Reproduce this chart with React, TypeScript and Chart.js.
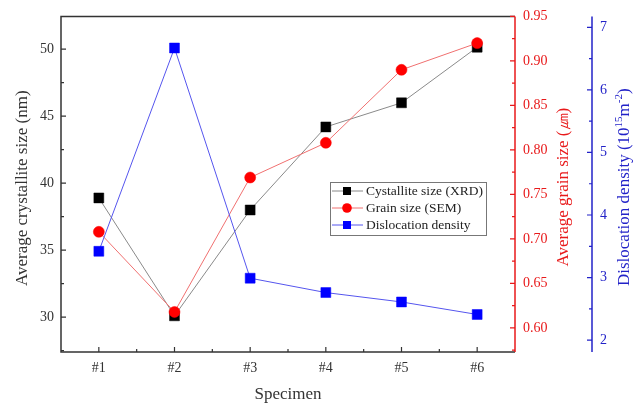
import { useEffect, useRef } from 'react';
import { Chart, registerables } from 'chart.js';
Chart.register(...registerables);

const categories = ['#1', '#2', '#3', '#4', '#5', '#6'];
const crystalliteSize = [38.9, 30.1, 38.0, 44.2, 46.0, 50.15];
const grainSize = [0.708, 0.618, 0.769, 0.808, 0.89, 0.92];
const dislocationDensity = [3.42, 6.67, 2.99, 2.76, 2.61, 2.41];
const seriesLabels = ['Cystallite size (XRD)', 'Grain size (SEM)', 'Dislocation density'];

const FONT = "'Liberation Serif', 'Times New Roman', serif";
const RED = '#ff0000';
const BLUE = '#0000ff';
const AXIS_DARK = '#333333';
const RED_AXIS = '#e8191a';
const BLUE_AXIS = '#2222c8';

function drawYTicks(ctx: CanvasRenderingContext2D, scale: any, xLine: number, dir: number, color: string) {
  const vals: number[] = scale.ticks.map((t: any) => t.value);
  ctx.strokeStyle = color;
  ctx.lineWidth = 1.2;
  ctx.beginPath();
  vals.forEach((v) => {
    const p = scale.getPixelForValue(v);
    ctx.moveTo(xLine, p);
    ctx.lineTo(xLine + dir * 5, p);
  });
  const step = vals[1] - vals[0];
  const minors: number[] = [];
  for (let i = 0; i < vals.length - 1; i++) minors.push((vals[i] + vals[i + 1]) / 2);
  minors.push(vals[0] - step / 2, vals[vals.length - 1] + step / 2);
  minors
    .filter((v) => v > scale.min && v < scale.max)
    .forEach((v) => {
      const p = scale.getPixelForValue(v);
      ctx.moveTo(xLine, p);
      ctx.lineTo(xLine + dir * 3, p);
    });
  ctx.stroke();
}

function drawRotated(ctx: CanvasRenderingContext2D, cx: number, cy: number, parts: { t: string; sup?: boolean }[], size: number, color: string) {
  ctx.save();
  ctx.translate(cx, cy);
  ctx.rotate(-Math.PI / 2);
  ctx.fillStyle = color;
  ctx.textBaseline = 'middle';
  ctx.textAlign = 'left';
  const supSize = Math.round(size * 0.62);
  let total = 0;
  parts.forEach((p) => {
    ctx.font = `${p.sup ? supSize : size}px ${FONT}`;
    total += ctx.measureText(p.t).width;
  });
  let x = -total / 2;
  parts.forEach((p) => {
    ctx.font = `${p.sup ? supSize : size}px ${FONT}`;
    ctx.fillText(p.t, x, p.sup ? -size * 0.32 : 0);
    x += ctx.measureText(p.t).width;
  });
  ctx.restore();
}

const decorPlugin = {
  id: 'decor',
  afterDraw(chart: any) {
    const ctx: CanvasRenderingContext2D = chart.ctx;
    const { left, right, top, bottom } = chart.chartArea;
    const xs = chart.scales.x;
    const ys = chart.scales.y;
    const yr = chart.scales.yGrain;
    const yb = chart.scales.yDisl;
    ctx.save();
    // frame
    ctx.lineWidth = 1.5;
    ctx.strokeStyle = AXIS_DARK;
    ctx.beginPath();
    ctx.moveTo(right, top);
    ctx.lineTo(left, top);
    ctx.lineTo(left, bottom);
    ctx.lineTo(right, bottom);
    ctx.stroke();
    ctx.strokeStyle = RED_AXIS;
    ctx.beginPath();
    ctx.moveTo(right, top);
    ctx.lineTo(right, bottom);
    ctx.stroke();
    const bx = yb.left;
    ctx.strokeStyle = BLUE_AXIS;
    ctx.beginPath();
    ctx.moveTo(bx, top);
    ctx.lineTo(bx, bottom);
    ctx.stroke();

    // ticks
    drawYTicks(ctx, ys, left, 1, AXIS_DARK);
    drawYTicks(ctx, yr, right, -1, RED_AXIS);
    drawYTicks(ctx, yb, bx, -1, BLUE_AXIS);
    ctx.strokeStyle = AXIS_DARK;
    ctx.lineWidth = 1.2;
    ctx.beginPath();
    for (let i = 0; i < categories.length; i++) {
      const p = xs.getPixelForValue(i);
      ctx.moveTo(p, bottom);
      ctx.lineTo(p, bottom - 5);
      if (i < categories.length - 1) {
        const m = xs.getPixelForValue(i + 0.5);
        ctx.moveTo(m, bottom);
        ctx.lineTo(m, bottom - 3);
      }
    }
    ctx.stroke();

    // titles
    drawRotated(ctx, 23, (top + bottom) / 2 + 4, [{ t: 'Average crystallite size (nm)' }], 17, '#333');
    drawRotated(ctx, 564, (top + bottom) / 2 + 3, [{ t: 'Average grain size (㎛)' }], 17, RED_AXIS);
    drawRotated(
      ctx,
      625,
      (top + bottom) / 2 + 3,
      [{ t: 'Dislocation density (10' }, { t: '15', sup: true }, { t: 'm' }, { t: '-2', sup: true }, { t: ')' }],
      17,
      BLUE_AXIS
    );
    ctx.fillStyle = '#333';
    ctx.font = `17px ${FONT}`;
    ctx.textAlign = 'center';
    ctx.textBaseline = 'middle';
    ctx.fillText('Specimen', (left + right) / 2, 395);

    // legend
    const lx = 330, ly = 182, lw = 156, lh = 53;
    ctx.fillStyle = '#ffffff';
    ctx.fillRect(lx, ly, lw, lh);
    ctx.strokeStyle = '#777';
    ctx.lineWidth = 1;
    ctx.strokeRect(lx + 0.5, ly + 0.5, lw, lh);
    const rows = [
      { y: 191, line: '#888888', mark: '#000000', shape: 'rect' },
      { y: 208, line: '#f07070', mark: RED, shape: 'circle' },
      { y: 225, line: '#5555ee', mark: BLUE, shape: 'rect' },
    ];
    rows.forEach((r, i) => {
      ctx.strokeStyle = r.line;
      ctx.lineWidth = 1;
      ctx.beginPath();
      ctx.moveTo(lx + 2, r.y);
      ctx.lineTo(lx + 33, r.y);
      ctx.stroke();
      ctx.fillStyle = r.mark;
      if (r.shape === 'rect') {
        ctx.fillRect(347 - 4, r.y - 4, 8, 8);
      } else {
        ctx.beginPath();
        ctx.arc(347, r.y, 4.8, 0, Math.PI * 2);
        ctx.fill();
      }
      ctx.fillStyle = '#222';
      ctx.font = `13.5px ${FONT}`;
      ctx.textAlign = 'left';
      ctx.textBaseline = 'middle';
      ctx.fillText(seriesLabels[i], 366, r.y + 0.5);
    });
    ctx.restore();
  },
};

export default function App() {
  const ref = useRef<HTMLCanvasElement | null>(null);
  useEffect(() => {
    document.body.style.margin = '0';
    if (!ref.current) return;
    const tickFont = { family: FONT, size: 14 };
    const chart = new Chart(ref.current, {
      type: 'line',
      data: {
        labels: categories,
        datasets: [
          {
            label: seriesLabels[0],
            data: crystalliteSize,
            yAxisID: 'y',
            borderColor: '#8a8a8a',
            borderWidth: 1,
            pointStyle: 'rect',
            pointRadius: 7,
            pointBackgroundColor: '#000',
            pointBorderColor: '#000',
            pointBorderWidth: 0.5,
            order: 2,
          },
          {
            label: seriesLabels[1],
            data: grainSize,
            yAxisID: 'yGrain',
            borderColor: '#f07070',
            borderWidth: 1,
            pointStyle: 'circle',
            pointRadius: 5.5,
            pointBackgroundColor: RED,
            pointBorderColor: RED,
            pointBorderWidth: 0.5,
            order: 1,
          },
          {
            label: seriesLabels[2],
            data: dislocationDensity,
            yAxisID: 'yDisl',
            borderColor: '#5555ee',
            borderWidth: 1,
            pointStyle: 'rect',
            pointRadius: 7,
            pointBackgroundColor: BLUE,
            pointBorderColor: BLUE,
            pointBorderWidth: 0.5,
            order: 0,
          },
        ],
      },
      options: {
        responsive: false,
        animation: false,
        layout: { padding: { top: 15, left: 0, right: 0, bottom: 0 } },
        plugins: { legend: { display: false }, tooltip: { enabled: false } },
        scales: {
          x: {
            type: 'category',
            offset: true,
            grid: { display: false, drawTicks: false },
            border: { display: false },
            ticks: { font: tickFont, color: '#333', padding: 8 },
            afterFit: (s: any) => {
              s.height = 53;
            },
          },
          y: {
            position: 'left',
            min: 27.4,
            max: 52.45,
            grid: { display: false, drawTicks: false },
            border: { display: false },
            ticks: { stepSize: 5, includeBounds: false, padding: 7, font: tickFont, color: '#333' },
            afterFit: (s: any) => {
              s.width = 61;
            },
          },
          yGrain: {
            position: 'right',
            weight: 1,
            min: 0.573,
            max: 0.95,
            grid: { display: false, drawTicks: false },
            border: { display: false },
            ticks: {
              stepSize: 0.05,
              includeBounds: false,
              padding: 8,
              font: tickFont,
              color: RED_AXIS,
              callback: (v: any) => Number(v).toFixed(2),
            },
            afterFit: (s: any) => {
              s.width = 77;
            },
          },
          yDisl: {
            position: 'right',
            weight: 2,
            min: 1.81,
            max: 7.175,
            grid: { display: false, drawTicks: false },
            border: { display: false },
            ticks: { stepSize: 1, includeBounds: false, padding: 8, font: tickFont, color: BLUE_AXIS },
            afterFit: (s: any) => {
              s.width = 52;
            },
          },
        },
      } as any,
      plugins: [decorPlugin],
    });
    return () => chart.destroy();
  }, []);
  return (
    <div style={{ position: 'fixed', left: 0, top: 0, width: 644, height: 405 }}>
      <canvas ref={ref} width={644} height={405} />
    </div>
  );
}
